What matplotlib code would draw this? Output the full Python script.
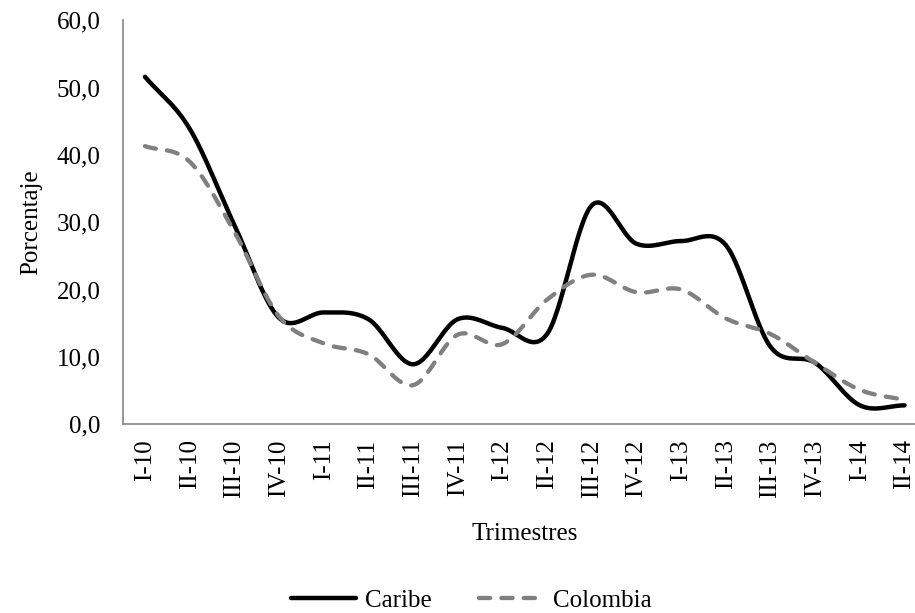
import numpy as np
import matplotlib
matplotlib.use('Agg')
import matplotlib.pyplot as plt

# Datos por trimestre
trimestres = ['I-10', 'II-10', 'III-10', 'IV-10', 'I-11', 'II-11', 'III-11', 'IV-11',
              'I-12', 'II-12', 'III-12', 'IV-12', 'I-13', 'II-13', 'III-13', 'IV-13',
              'I-14', 'II-14']
caribe = [51.6, 43.9, 29.6, 15.8, 16.6, 15.6, 8.9, 15.6, 14.3, 13.4, 32.5, 26.8,
          27.2, 26.6, 11.5, 9.1, 2.8, 2.8]
colombia = [41.3, 39.0, 28.6, 16.0, 12.0, 10.4, 5.8, 13.3, 11.9, 18.5, 22.2, 19.6,
            20.0, 15.7, 13.4, 9.1, 5.1, 3.6]


def suavizar(x, y, n=30):
    # curva tipo Catmull-Rom (como la linea suavizada de Excel)
    x = np.asarray(x, float)
    y = np.asarray(y, float)
    px = np.concatenate([[2 * x[0] - x[1]], x, [2 * x[-1] - x[-2]]])
    py = np.concatenate([[2 * y[0] - y[1]], y, [2 * y[-1] - y[-2]]])
    t = np.linspace(0, 1, n)
    xs, ys = [], []
    for i in range(1, len(px) - 2):
        for p, out in ((px, xs), (py, ys)):
            p0, p1, p2, p3 = p[i - 1], p[i], p[i + 1], p[i + 2]
            out.append(0.5 * ((2 * p1) + (-p0 + p2) * t +
                              (2 * p0 - 5 * p1 + 4 * p2 - p3) * t ** 2 +
                              (-p0 + 3 * p1 - 3 * p2 + p3) * t ** 3))
    return np.concatenate(xs), np.concatenate(ys)


plt.rcParams['font.family'] = ['Liberation Serif', 'DejaVu Serif']

fig = plt.figure(figsize=(9.15, 6.13), dpi=100)
ax = fig.add_axes([0.134, 0.308, 0.879, 0.659])

pos = np.arange(len(trimestres))
xc, yc = suavizar(pos, caribe)
xo, yo = suavizar(pos, colombia)
ax.plot(xc, yc, color='black', lw=3.2, label='Caribe', solid_capstyle='round')
ax.plot(xo, yo, color='#808080', lw=3.1, ls=(0, (2.6, 2.6)), dash_capstyle='round',
        label='Colombia')

ax.set_xlim(-0.5, len(trimestres) - 0.5)
ax.set_ylim(0, 60)
ax.set_yticks(np.arange(0, 61, 10))
ax.set_yticklabels([('%.1f' % v).replace('.', ',') for v in np.arange(0, 61, 10)])
ax.set_xticks(pos)
ax.set_xticklabels(trimestres, rotation=90)
ax.tick_params(axis='both', length=0, labelsize=18)
ax.tick_params(axis='x', pad=11)
ax.tick_params(axis='y', pad=16)

for s in ['top', 'right']:
    ax.spines[s].set_visible(False)
for s in ['left', 'bottom']:
    ax.spines[s].set_color('#868686')
    ax.spines[s].set_linewidth(1.2)

ax.set_xlabel('Trimestres', fontsize=18, labelpad=18)
ax.set_ylabel('Porcentaje', fontsize=18, labelpad=10)

fig.legend(loc='lower center', bbox_to_anchor=(0.515, -0.035), ncol=2, frameon=False,
           fontsize=18, handlelength=2.6, handletextpad=0.35, columnspacing=1.9)

fig.savefig('out.png', dpi=100)
